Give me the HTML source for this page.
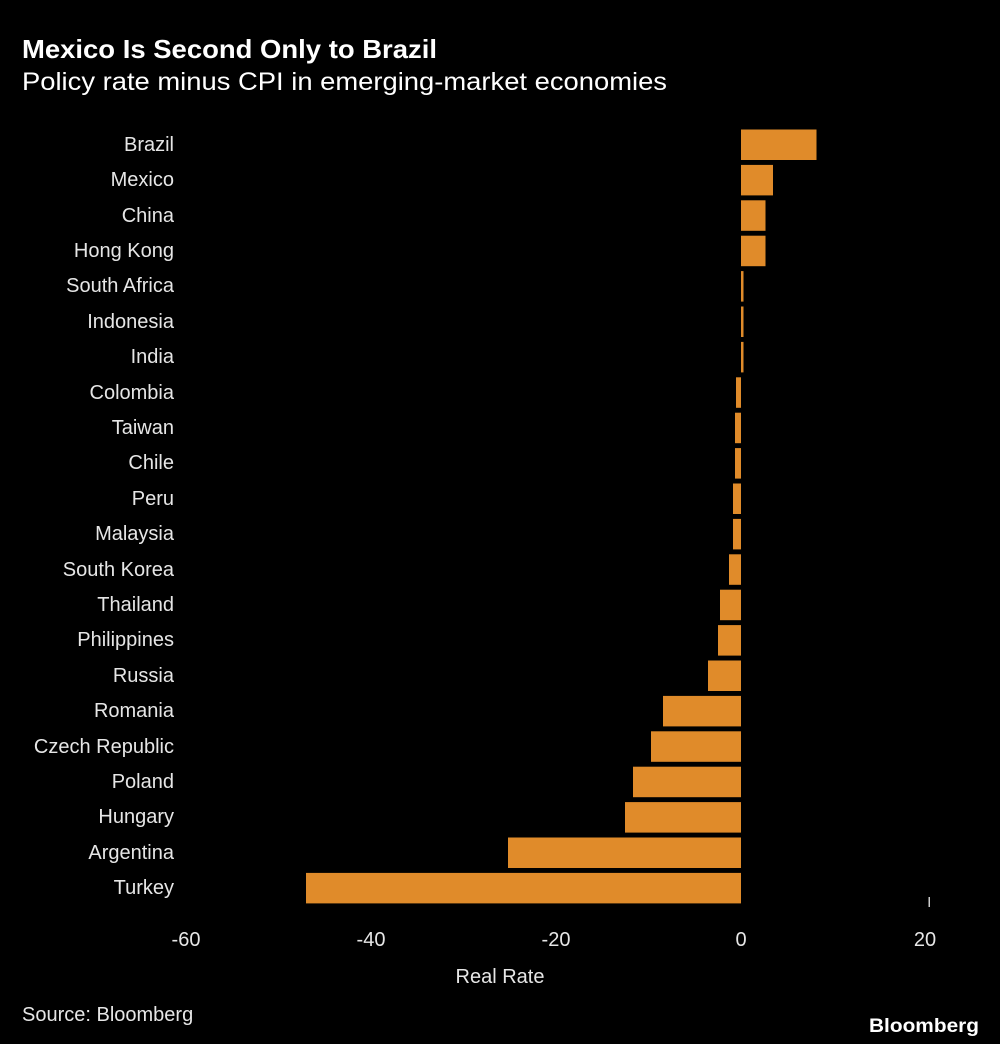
<!DOCTYPE html>
<html><head><meta charset="utf-8"><style>
html,body{margin:0;padding:0;background:#000;}
svg{display:block;}
text{font-family:"Liberation Sans",sans-serif;fill:#e6e6e6;}
</style></head><body>
<svg width="1000" height="1044" viewBox="0 0 1000 1044" xmlns="http://www.w3.org/2000/svg">
<rect width="1000" height="1044" fill="#000"/>
<text x="22" y="58" font-size="26" font-weight="bold" fill="#fff" textLength="415" lengthAdjust="spacingAndGlyphs" style="fill:#fff">Mexico Is Second Only to Brazil</text>
<text x="22" y="90" font-size="25" textLength="645" lengthAdjust="spacingAndGlyphs" style="fill:#fff">Policy rate minus CPI in emerging-market economies</text>
<g font-size="20" text-anchor="end">
<text x="174" y="151">Brazil</text>
<text x="174" y="186">Mexico</text>
<text x="174" y="222">China</text>
<text x="174" y="257">Hong Kong</text>
<text x="174" y="292">South Africa</text>
<text x="174" y="328">Indonesia</text>
<text x="174" y="363">India</text>
<text x="174" y="399">Colombia</text>
<text x="174" y="434">Taiwan</text>
<text x="174" y="469">Chile</text>
<text x="174" y="505">Peru</text>
<text x="174" y="540">Malaysia</text>
<text x="174" y="576">South Korea</text>
<text x="174" y="611">Thailand</text>
<text x="174" y="646">Philippines</text>
<text x="174" y="682">Russia</text>
<text x="174" y="717">Romania</text>
<text x="174" y="753">Czech Republic</text>
<text x="174" y="788">Poland</text>
<text x="174" y="823">Hungary</text>
<text x="174" y="859">Argentina</text>
<text x="174" y="894">Turkey</text>
</g>
<g fill="#e08b2a">
<rect x="741" y="129.5" width="75.5" height="30.5"/>
<rect x="741" y="164.9" width="32" height="30.5"/>
<rect x="741" y="200.3" width="24.5" height="30.5"/>
<rect x="741" y="235.7" width="24.5" height="30.5"/>
<rect x="741" y="271.1" width="2.5" height="30.5"/>
<rect x="741" y="306.5" width="2.5" height="30.5"/>
<rect x="741" y="341.9" width="2.5" height="30.5"/>
<rect x="736" y="377.3" width="5" height="30.5"/>
<rect x="735" y="412.7" width="6" height="30.5"/>
<rect x="735" y="448.1" width="6" height="30.5"/>
<rect x="733" y="483.5" width="8" height="30.5"/>
<rect x="733" y="518.9" width="8" height="30.5"/>
<rect x="729" y="554.3" width="12" height="30.5"/>
<rect x="720" y="589.7" width="21" height="30.5"/>
<rect x="718" y="625.1" width="23" height="30.5"/>
<rect x="708" y="660.5" width="33" height="30.5"/>
<rect x="663" y="695.9" width="78" height="30.5"/>
<rect x="651" y="731.3" width="90" height="30.5"/>
<rect x="633" y="766.7" width="108" height="30.5"/>
<rect x="625" y="802.1" width="116" height="30.5"/>
<rect x="508" y="837.5" width="233" height="30.5"/>
<rect x="306" y="872.9" width="435" height="30.5"/>
</g>
<rect x="928.5" y="897" width="1.5" height="10" fill="#ccc"/>
<g font-size="20" text-anchor="middle">
<text x="186" y="946">-60</text>
<text x="371" y="946">-40</text>
<text x="556" y="946">-20</text>
<text x="741" y="946">0</text>
<text x="925" y="946">20</text>
<text x="500" y="983">Real Rate</text>
</g>
<text x="22" y="1021" font-size="20">Source: Bloomberg</text>
<text x="979" y="1032" font-size="19" font-weight="bold" text-anchor="end" textLength="110" lengthAdjust="spacingAndGlyphs" style="fill:#fff">Bloomberg</text>
</svg>
</body></html>
